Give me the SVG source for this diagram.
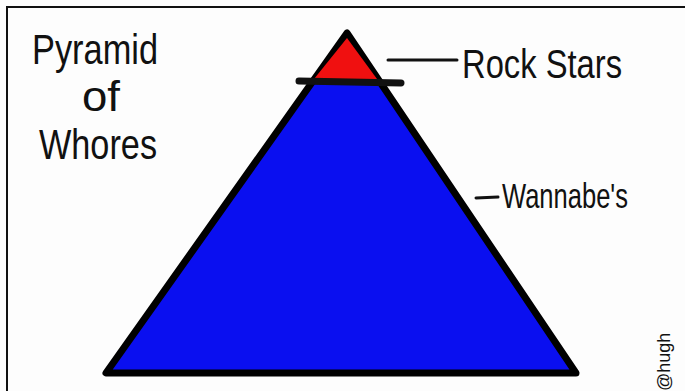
<svg xmlns="http://www.w3.org/2000/svg" width="685" height="391" viewBox="0 0 685 391">
<style>
.t{font-family:"Liberation Sans","DejaVu Sans",sans-serif;fill:#111;}
.ln{stroke:#111;stroke-linecap:round;fill:none;}
</style>
<rect x="0" y="0" width="685" height="391" fill="#fdfdfd"/>
<rect x="7" y="7" width="690" height="400" fill="none" stroke="#111" stroke-width="2"/>
<g id="pyramid">
<polygon points="347,33 106,373 576,373" fill="#0a0ff0" stroke="#000" stroke-width="7" stroke-linejoin="round"/>
<polygon points="347,38 314,79 377,79" fill="#f01010"/>
<line class="ln" x1="299" y1="81" x2="401" y2="83" stroke-width="7"/>
</g>
<g id="title">
<text class="t" x="32" y="64" font-size="42" textLength="126" lengthAdjust="spacingAndGlyphs">Pyramid</text>
<text class="t" x="82" y="111" font-size="42" textLength="38" lengthAdjust="spacingAndGlyphs">of</text>
<text class="t" x="39" y="159" font-size="42" textLength="118" lengthAdjust="spacingAndGlyphs">Whores</text>
</g>
<g id="connectors">
<line class="ln" x1="388" y1="60" x2="457" y2="60" stroke-width="3"/>
<line class="ln" x1="476" y1="198" x2="498" y2="197" stroke-width="3"/>
</g>
<g id="rockstars">
<text class="t" x="462" y="78" font-size="40" textLength="160" lengthAdjust="spacingAndGlyphs">Rock Stars</text>
</g>
<g id="wannabes">
<text class="t" x="502" y="208" font-size="35" textLength="126" lengthAdjust="spacingAndGlyphs">Wannabe's</text>
</g>
<text class="t" transform="translate(670,391) rotate(-90)" font-size="18">@hugh</text>
</svg>
